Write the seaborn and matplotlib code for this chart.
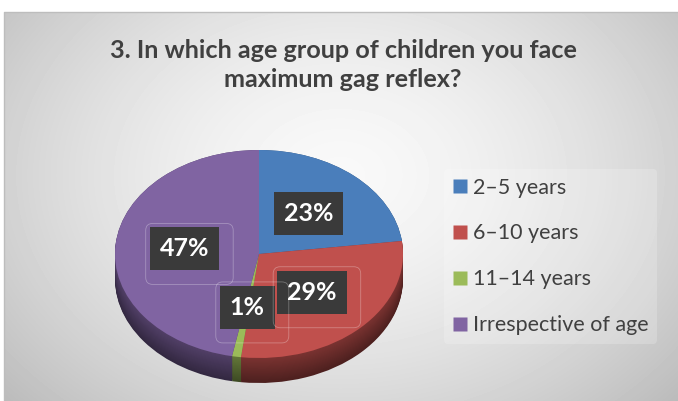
import numpy as np
import matplotlib
matplotlib.use('Agg')
import matplotlib.pyplot as plt
import seaborn as sns
from matplotlib.lines import Line2D
from matplotlib.colors import to_rgb
from matplotlib.patches import FancyBboxPatch

# Survey answers (percent of respondents)
categories = ['2–5 years', '6–10 years', '11–14 years', 'Irrespective of age']
shares = [23, 29, 1, 47]
top_colors = ['#4a7ebb', '#c0504d', '#9bbb59', '#8064a2']
title = '3. In which age group of children you face\nmaximum gag reflex?'

sns.set_theme(style='white')
plt.rcParams['font.family'] = ['Lato', 'DejaVu Sans']

W, H = 678, 401
fig = plt.figure(figsize=(W / 100, H / 100), dpi=100)

# Soft radial background of the chart area
bg = fig.add_axes([0, 0, 1, 1])
yy, xx = np.mgrid[0:H, 0:W]
r = np.hypot((xx - 340) / 400, (yy - 175) / 300)
shade = np.clip(0.975 - 0.2 * r ** 1.6, 0, 1)
shade[:12, :] = 1
shade[:, :4] = 1
bg.imshow(shade, cmap='gray', vmin=0, vmax=1, extent=(0, W, H, 0),
          interpolation='bilinear', zorder=0)
bg.plot([4, 4, W], [H, 12, 12], color='#bdbdbd', lw=1)
bg.set_xlim(0, W)
bg.set_ylim(H, 0)
bg.set_aspect('auto')
bg.axis('off')

# Pie axes: unequal x/y scaling tilts the disc into an ellipse
px_left, px_right, px_top, px_bottom = 115, 403, 150, 383
ry = 104
depth = (px_bottom - px_top) / ry - 2
ax = fig.add_axes([px_left / W, (H - px_bottom) / H,
                   (px_right - px_left) / W, (px_bottom - px_top) / H])


def darker(c, f):
    return tuple(np.clip(np.array(to_rgb(c)) * f, 0, 1))


# Extruded side wall: stacked, darker copies of the pie
n_layers = 28
for i in range(n_layers):
    t = i / (n_layers - 1)
    off = -depth * (1 - t)
    f = 0.40 + 0.24 * t
    ax.pie(shares, colors=[darker(c, f) for c in top_colors], startangle=90,
           counterclock=False, center=(0, off), radius=1,
           wedgeprops=dict(linewidth=0), frame=True)

# Top face with percentage labels
wedges, texts, autotexts = ax.pie(
    shares, colors=top_colors, startangle=90, counterclock=False,
    autopct=lambda p: f'{p:.0f}%', pctdistance=0.52, radius=1,
    wedgeprops=dict(linewidth=0), frame=True,
    textprops=dict(color='white', fontsize=18, fontweight='bold'))
for t in autotexts:
    t.set_bbox(dict(boxstyle='square,pad=0.4', fc='#3a3a3a', ec='none'))

ax.set_xlim(-1, 1)
ax.set_ylim(-1 - depth, 1)
ax.set_aspect('auto')
ax.axis('off')

fig.text(343 / W, 1 - 65 / H, title, ha='center', va='center',
         fontsize=18.2, fontweight='bold', color='#404040', linespacing=1.35)

handles = [Line2D([], [], marker='s', linestyle='none', markersize=10,
                  markerfacecolor=c, markeredgecolor='none') for c in top_colors]
leg = fig.legend(handles, categories, loc='upper left',
                 bbox_to_anchor=(444 / W, 1 - 169 / H), borderaxespad=0,
                 fontsize=15.5, labelspacing=1.2, handlelength=0.65,
                 handletextpad=0.3, borderpad=0.4, frameon=True,
                 facecolor='white', edgecolor='none', framealpha=0.2)
for txt in leg.get_texts():
    txt.set_color('#404040')

# Faint rounded outlines trailing the smaller labels (display coordinates)
fig.canvas.draw()
for t in autotexts[1:]:
    ext = t.get_bbox_patch().get_window_extent()
    x0, x1 = ext.x0 - 4, ext.x1 + 14
    y0, y1 = ext.y0 - 14, ext.y1 + 4
    fig.add_artist(FancyBboxPatch((x0, y0), x1 - x0, y1 - y0,
                                  boxstyle='round,pad=0,rounding_size=7',
                                  fc='none', ec='white', lw=0.6, alpha=0.3,
                                  transform=None, zorder=5))

fig.savefig('out.png', dpi=100)
